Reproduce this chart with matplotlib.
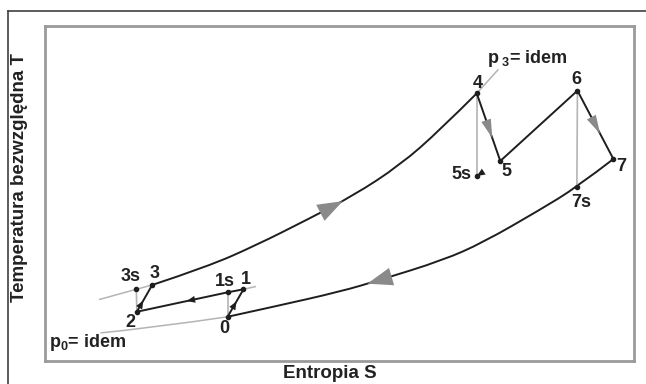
import matplotlib
matplotlib.use("Agg")
import matplotlib.pyplot as plt
from matplotlib.lines import Line2D
from matplotlib.path import Path
from matplotlib.patches import PathPatch

plt.rcParams['font.family'] = ['Liberation Sans', 'DejaVu Sans']
plt.rcParams['font.weight'] = 'bold'
plt.rcParams['mathtext.fontset'] = 'custom'
plt.rcParams['mathtext.rm'] = 'Liberation Sans:bold'
plt.rcParams['mathtext.it'] = 'Liberation Sans:bold'
plt.rcParams['mathtext.bf'] = 'Liberation Sans:bold'

# state points of the cycle (entropy S, temperature T, arbitrary units)
point_names = ['0', '1s', '1', '2', '3s', '3', '4', '5s', '5', '6', '7s', '7']
point_S = [31.0, 31.0, 33.7, 15.6, 15.5, 18.2, 73.3, 73.3, 77.3, 90.4, 90.3, 96.5]
point_T = [13.2, 20.5, 21.4, 14.7, 21.4, 22.7, 79.9, 55.2, 59.7, 80.7, 51.9, 60.3]
# label offsets in points
label_dx = [-2.4, -1.9, 1.9, -4.8, -4.3, 1.7, 0.5, -11.2, 4.1, -0.7, 3.2, 6.0]
label_dy = [-8.6, 7.9, 7.2, -7.4, 8.9, 7.9, 7.4, 1.2, -7.2, 8.2, -11.1, -5.5]

# high pressure isobar p3 (through 3s, 3 and 4)
p3_S = [9.3, 15.5, 18.2, 27.5, 35.9, 44.4, 52.3, 60.3, 67.1, 73.3, 76.9]
p3_T = [18.4, 21.4, 22.7, 28.1, 34.6, 42.1, 49.3, 58.5, 69.0, 79.9, 86.9]
# ambient isobar p0 (through 0, 7s and 7)
p0_S = [9.5, 18.2, 31.0, 38.8, 50.1, 56.9, 67.6, 74.4, 84.0, 90.3, 96.5]
p0_T = [8.4, 9.9, 13.2, 16.2, 20.7, 24.2, 30.1, 35.4, 45.1, 51.9, 60.3]
# intermediate isobar (2 -> 1s -> 1)
p1_S = [15.6, 31.0, 33.7, 35.7]
p1_T = [14.7, 20.5, 21.4, 22.2]

BLACK = '#1e1e1e'
GREY = '#b4b4b4'
ARROW_GREY = '#8a8a8a'

P = {n: (s, t) for n, s, t in zip(point_names, point_S, point_T)}

fig = plt.figure(figsize=(6.46, 3.84), dpi=100)
ax = fig.add_axes([45 / 646, 23 / 384, 589 / 646, 335 / 384])
ax.set_xlim(0, 100)
ax.set_ylim(0, 100)
ax.set_xticks([])
ax.set_yticks([])
for sp in ax.spines.values():
    sp.set_color('#9a9a9a')
    sp.set_linewidth(2.0)

# outer frame
fig.add_artist(Line2D([8 / 646, 1], [1 - 11 / 384] * 2, color='#404040', lw=1.2))
fig.add_artist(Line2D([8 / 646] * 2, [0, 1 - 11 / 384], color='#404040', lw=1.2))


def smooth(xs, ys, color, lw):
    # quadratic B-spline through the readings, drawn as a path
    pts = list(zip(xs, ys))
    verts = [pts[0]]
    codes = [Path.MOVETO]
    for i in range(1, len(pts) - 1):
        mid = ((pts[i][0] + pts[i + 1][0]) / 2, (pts[i][1] + pts[i + 1][1]) / 2)
        if i == len(pts) - 2:
            mid = pts[-1]
        verts += [pts[i], mid]
        codes += [Path.CURVE3, Path.CURVE3]
    if len(pts) == 2:
        verts.append(pts[1])
        codes.append(Path.LINETO)
    ax.add_patch(PathPatch(Path(verts, codes), fc='none', ec=color, lw=lw,
                           capstyle='round'))


def arrow(a, b, frac, color, scale, hl, hw):
    tip = (a[0] + frac * (b[0] - a[0]), a[1] + frac * (b[1] - a[1]))
    tail = (a[0] + (frac - 0.02) * (b[0] - a[0]), a[1] + (frac - 0.02) * (b[1] - a[1]))
    ax.annotate('', xy=tip, xytext=tail,
                arrowprops=dict(arrowstyle=f'-|>,head_length={hl},head_width={hw}',
                                color=color, lw=0, shrinkA=0, shrinkB=0,
                                mutation_scale=scale), zorder=5)


# grey isobar extensions
ax.plot(p3_S[:3], p3_T[:3], color=GREY, lw=1.1)
ax.plot(p3_S[-2:], p3_T[-2:], color=GREY, lw=1.1)
smooth(p0_S[:3], p0_T[:3], GREY, 1.1)
ax.plot(p1_S[-2:], p1_T[-2:], color=GREY, lw=1.1)

# isentropic reference lines
for a, b in [('0', '1s'), ('2', '3s'), ('4', '5s'), ('6', '7s')]:
    ax.plot([P[a][0], P[b][0]], [P[a][1], P[b][1]], color=GREY, lw=1.2)

# cycle: heating 3-4, cooling 7-0, intercooling 1-2
smooth(p3_S[2:10], p3_T[2:10], BLACK, 1.4)
smooth(p0_S[2:], p0_T[2:], BLACK, 1.4)
ax.plot(p1_S[:3], p1_T[:3], color=BLACK, lw=1.4)
for a, b in [('0', '1'), ('2', '3'), ('4', '5'), ('5', '6'), ('6', '7')]:
    ax.plot([P[a][0], P[b][0]], [P[a][1], P[b][1]], color=BLACK, lw=1.4)

ax.plot(point_S, point_T, 'o', color=BLACK, ms=3, zorder=6)

# flow direction heads
arrow((p3_S[5], p3_T[5]), (p3_S[6], p3_T[6]), 0.78, ARROW_GREY, 13, 1.4, 0.5)
arrow((p0_S[5], p0_T[5]), (p0_S[4], p0_T[4]), 0.32, ARROW_GREY, 13, 1.4, 0.5)
arrow(P['4'], P['5'], 0.66, ARROW_GREY, 9, 1.5, 0.4)
arrow(P['6'], P['7'], 0.63, ARROW_GREY, 9, 1.5, 0.4)
arrow(P['0'], P['1'], 0.56, BLACK, 5, 1.2, 0.5)
arrow(P['2'], P['3'], 0.42, BLACK, 5, 1.2, 0.5)
arrow(P['1s'], P['2'], 0.45, BLACK, 5, 1.2, 0.5)
arrow(P['5'], P['5s'], 1.0, BLACK, 5, 1.2, 0.5)

for n, s, t, dx, dy in zip(point_names, point_S, point_T, label_dx, label_dy):
    ax.annotate(n, (s, t), xytext=(dx, dy), textcoords='offset points',
                ha='center', va='center', fontsize=13, color='#222222')

ax.text(75.0, 90.4, r'$\mathrm{p}_{\ 3}$= idem', fontsize=13, color='#222222',
        ha='left', va='center')
ax.text(0.7, 5.4, r'$\mathrm{p}_{0}$= idem', fontsize=13, color='#222222',
        ha='left', va='center')

fig.text(330 / 646, 1 - 373 / 384, 'Entropia S', fontsize=13.5, color='#222222',
         ha='center', va='center')
fig.text(20 / 646, 1 - 178 / 384, 'Temperatura bezwzględna T', fontsize=13.5,
         color='#222222', ha='center', va='center', rotation=90)

fig.savefig('out.png', dpi=100)
